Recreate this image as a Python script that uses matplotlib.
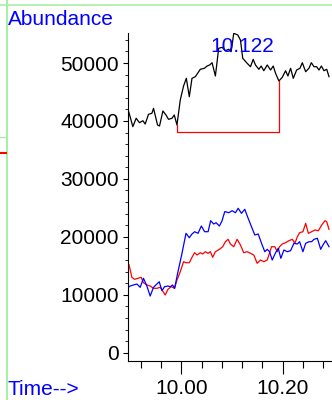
import matplotlib
matplotlib.use("Agg")
import matplotlib.pyplot as plt
from matplotlib.ticker import MultipleLocator, FixedFormatter, FixedLocator
from matplotlib.lines import Line2D

# TIC trace (black)
t_black = [9.8953, 9.8992, 9.9045, 9.9111, 9.9176, 9.9243, 9.9289, 9.9354, 9.9421, 9.9453,
           9.9532, 9.9571, 9.9638, 9.9698, 9.9749, 9.9816, 9.9862, 9.9915, 9.9980, 10.0045,
           10.0099, 10.0158, 10.0211, 10.0277, 10.0375, 10.0455, 10.0508, 10.0559, 10.0607, 10.0672,
           10.0737, 10.0804, 10.0870, 10.0935, 10.0982, 10.1034, 10.1113, 10.1166, 10.1211, 10.1298,
           10.1364, 10.1417, 10.1462, 10.1528, 10.1575, 10.1626, 10.1694, 10.1759, 10.1812, 10.1858,
           10.1923, 10.1990, 10.2055, 10.2101, 10.2154, 10.2207, 10.2273, 10.2338, 10.2385, 10.2451,
           10.2516, 10.2563, 10.2615, 10.2668, 10.2713, 10.2761, 10.2812, 10.2866, 10.2911]
ab_black = [41890, 40730, 39010, 40460, 39700, 40040, 39470, 41150, 41320, 42180,
            39300, 39130, 41720, 41030, 40280, 40460, 41030, 39300, 43620, 46030,
            47360, 44190, 47360, 47640, 48920, 49090, 49480, 49660, 50050, 47760,
            52540, 52710, 52130, 52370, 51950, 55130, 54840, 53970, 50810, 49950,
            49360, 50640, 49660, 48920, 49480, 48670, 49660, 48790, 49480, 48220,
            46900, 47530, 48670, 47760, 49090, 47360, 48790, 49090, 50050, 48500,
            49090, 50050, 49360, 49360, 48790, 49480, 48670, 48920, 47640]

# ion trace (blue)
t_blue = [9.8927, 9.8992, 9.9057, 9.9125, 9.9190, 9.9255, 9.9322, 9.9387, 9.9453, 9.9520,
          9.9565, 9.9619, 9.9670, 9.9737, 9.9783, 9.9828, 9.9868, 9.9935, 10.0014, 10.0093,
          10.0158, 10.0211, 10.0263, 10.0330, 10.0395, 10.0460, 10.0528, 10.0579, 10.0638, 10.0686,
          10.0751, 10.0804, 10.0856, 10.0870, 10.0935, 10.1002, 10.1067, 10.1121, 10.1186, 10.1251,
          10.1318, 10.1383, 10.1449, 10.1516, 10.1581, 10.1646, 10.1694, 10.1739, 10.1792, 10.1858,
          10.1911, 10.1962, 10.2022, 10.2089, 10.2154, 10.2219, 10.2287, 10.2332, 10.2397, 10.2451,
          10.2516, 10.2569, 10.2615, 10.2682, 10.2747, 10.2791, 10.2846, 10.2911]
ab_blue = [11115, 11512, 11685, 11858, 11288, 12841, 11512, 9786, 11288, 11858,
           12255, 10701, 11392, 11512, 11392, 11685, 11115, 13981, 17156, 20608,
           19849, 20488, 20885, 20608, 21868, 20885, 20885, 22783, 22214, 22438,
           21868, 22783, 24337, 24337, 24164, 24509, 24164, 24923, 24060, 24751,
           23197, 21748, 20315, 20488, 18882, 17433, 17847, 17433, 16000, 17260,
           18019, 16293, 17726, 17433, 17605, 18882, 18762, 19159, 17433, 18882,
           19159, 19159, 19573, 19745, 17847, 18589, 19331, 18296]

# ion trace (red)
t_red = [9.8927, 9.8972, 9.9026, 9.9077, 9.9144, 9.9209, 9.9255, 9.9322, 9.9387, 9.9453,
         9.9520, 9.9585, 9.9630, 9.9684, 9.9737, 9.9802, 9.9868, 9.9915, 9.9980, 10.0045,
         10.0093, 10.0158, 10.0211, 10.0263, 10.0310, 10.0375, 10.0421, 10.0474, 10.0528, 10.0573,
         10.0619, 10.0672, 10.0751, 10.0816, 10.0870, 10.0923, 10.0968, 10.1034, 10.1101, 10.1166,
         10.1231, 10.1298, 10.1364, 10.1429, 10.1496, 10.1561, 10.1626, 10.1694, 10.1779, 10.1844,
         10.1891, 10.1937, 10.1990, 10.2055, 10.2121, 10.2188, 10.2239, 10.2287, 10.2332, 10.2397,
         10.2451, 10.2504, 10.2569, 10.2634, 10.2702, 10.2767, 10.2832, 10.2866, 10.2911]
ab_red = [15879, 15137, 13014, 12669, 12841, 13014, 12082, 11685, 11512, 11115,
          11115, 11288, 10701, 9959, 10943, 11392, 11115, 12548, 13981, 15707,
          15534, 15534, 16466, 17260, 16863, 17260, 17036, 17433, 17156, 17433,
          16466, 17433, 17847, 18296, 19159, 19573, 18762, 18296, 19573, 18589,
          17260, 17433, 17156, 16863, 15430, 16000, 15707, 16000, 18296, 18296,
          17433, 18296, 18762, 18986, 19331, 19573, 18882, 20022, 20712, 20885,
          22334, 20608, 20885, 21178, 21057, 22041, 22783, 22611, 21299]

# integration baseline of the labelled peak
peak_label = "10.122"
peak_rt = 10.1206
int_start, int_end = 9.9921, 10.1923
int_base = 38040
start_val, end_val = 39300, 46900

plt.rcParams['font.family'] = ['Liberation Sans', 'DejaVu Sans']
fig = plt.figure(figsize=(3.32, 4.0), dpi=100)
ax = fig.add_axes([128 / 332, 39 / 400, 1 - 128 / 332, (361 - 33) / 400])

ax.plot(t_black, ab_black, color='black', lw=0.9)
ax.plot(t_red, ab_red, color='#ff0000', lw=0.9)
ax.plot(t_blue, ab_blue, color='#0000ff', lw=0.9)
ax.plot([int_start, int_start, int_end, int_end], [start_val, int_base, int_base, end_val],
        color='#ff0000', lw=0.9)
ax.text(peak_rt, 51950, peak_label, color='#0000ff', fontsize=15, ha='center', va='baseline')

ax.set_xlim(9.895, 10.297)
ax.set_ylim(-1430, 55180)
for s in ['top', 'right']:
    ax.spines[s].set_visible(False)
for s in ['left', 'bottom']:
    ax.spines[s].set_linewidth(0.8)

ax.yaxis.set_major_locator(MultipleLocator(10000))
ax.yaxis.set_minor_locator(MultipleLocator(2000))
ax.yaxis.set_major_formatter(plt.FuncFormatter(lambda v, p: '%d' % v))
ax.xaxis.set_major_locator(FixedLocator([10.0, 10.2]))
ax.xaxis.set_major_formatter(FixedFormatter(['10.00', '10.20']))
ax.xaxis.set_minor_locator(MultipleLocator(0.04))
ax.tick_params(axis='y', which='major', length=3.5, width=0.8, pad=3, labelsize=15)
ax.tick_params(axis='y', which='minor', length=2, width=0.6)
ax.tick_params(axis='x', which='major', length=9, width=0.8, pad=4, labelsize=15)
ax.tick_params(axis='x', which='minor', length=5, width=0.8)

# frame lines of the viewer window
fig.add_artist(Line2D([0, 1], [1 - 5 / 400, 1 - 5 / 400], color='#a8f0a8', lw=1.2))
fig.add_artist(Line2D([7 / 332, 7 / 332], [0, 1], color='#a8f0a8', lw=1.5))
fig.add_artist(Line2D([0, 7 / 332], [1 - 137 / 400, 1 - 137 / 400], color='#a8f0a8', lw=1))
fig.add_artist(Line2D([1 / 332, 6 / 332], [1 - 153 / 400, 1 - 153 / 400], color='#ff0000', lw=1.5))

fig.text(8 / 332, 1 - 25 / 400, 'Abundance', color='#0000ff', fontsize=15, va='baseline')
fig.text(8 / 332, 5 / 400, 'Time-->', color='#0000ff', fontsize=15, va='baseline')

fig.savefig('out.png', dpi=100)
